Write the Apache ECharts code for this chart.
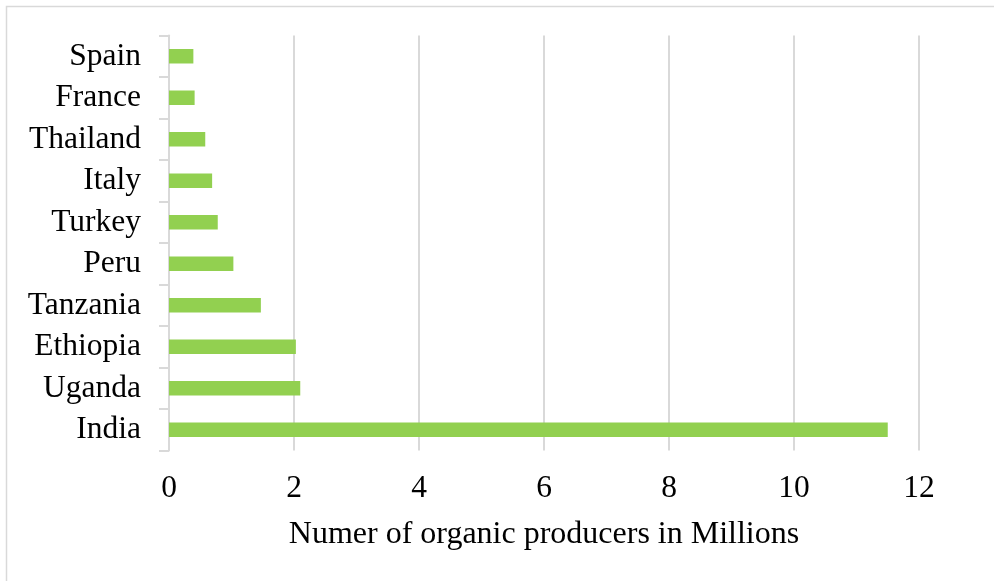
<!DOCTYPE html>
<html>
<head>
<meta charset="utf-8">
<script src="https://cdn.jsdelivr.net/npm/echarts@6/dist/echarts.min.js"></script>
<style>
  html, body { margin: 0; padding: 0; background: #fff; }
  #chart { width: 994px; height: 581px; }
</style>
</head>
<body>
<div id="chart"></div>
<script>
// Countries, listed bottom to top along the category axis
const countries = ['India', 'Uganda', 'Ethiopia', 'Tanzania', 'Peru', 'Turkey', 'Italy', 'Thailand', 'France', 'Spain'];
// Organic producers per country, millions
const producers = [11.5, 2.1, 2.03, 1.47, 1.03, 0.78, 0.69, 0.58, 0.41, 0.39];
// Value axis ticks
const xTicks = [0, 2, 4, 6, 8, 10, 12];
const xName = 'Numer of organic producers in Millions';

const font = '"Liberation Serif", "Times New Roman", serif';
const chart = echarts.init(document.getElementById('chart'), null, { renderer: 'canvas' });

chart.setOption({
  animation: false,
  backgroundColor: '#ffffff',
  graphic: [{
    type: 'rect',
    shape: { x: 6.5, y: 6.5, width: 1100, height: 700 },
    style: { fill: 'none', stroke: '#d9d9d9', lineWidth: 1.5 },
    silent: true
  }],
  grid: { left: 169, right: 75, top: 35.5, bottom: 130.5, containLabel: false },
  xAxis: {
    type: 'value',
    min: xTicks[0],
    max: xTicks[xTicks.length - 1],
    interval: xTicks[1] - xTicks[0],
    name: xName,
    nameLocation: 'middle',
    nameGap: 68,
    nameTextStyle: { fontFamily: font, fontSize: 32, color: '#000' },
    axisLine: { show: false },
    axisTick: { show: false },
    axisLabel: { fontFamily: font, fontSize: 31.5, color: '#000', margin: 22 },
    splitLine: { show: true, lineStyle: { color: '#d9d9d9', width: 2 } }
  },
  yAxis: {
    type: 'category',
    data: countries,
    axisLine: { show: true, lineStyle: { color: '#d9d9d9', width: 2 } },
    axisTick: { show: true, length: 10, lineStyle: { color: '#d9d9d9', width: 2 } },
    axisLabel: { fontFamily: font, fontSize: 31.5, color: '#000', margin: 28, interval: 0 },
    splitLine: { show: false }
  },
  series: [{
    type: 'bar',
    data: producers,
    barWidth: 14.5,
    itemStyle: { color: '#92d050' }
  }]
});
</script>
</body>
</html>
